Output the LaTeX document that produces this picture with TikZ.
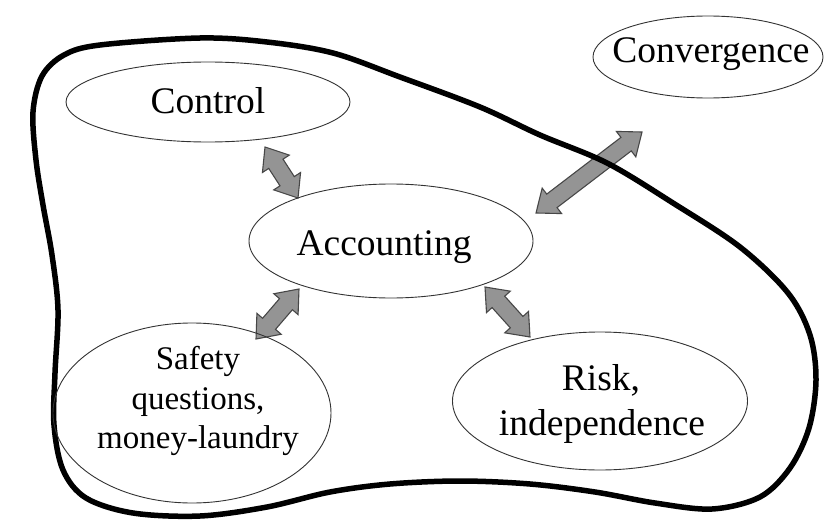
\documentclass[tikz,border=0pt]{standalone}
\usepackage{fontspec}
\setmainfont{Liberation Serif}
\usetikzlibrary{shapes.geometric,calc}
\begin{document}
\begin{tikzpicture}[x=1pt,y=-1pt,
  ell/.style={ellipse, draw=black!80, line width=0.9pt, inner sep=0pt},
  bigtext/.style={font=\fontsize{37.5}{45}\selectfont, anchor=base, inner sep=0pt},
  smalltext/.style={font=\fontsize{33}{40}\selectfont, anchor=base, inner sep=0pt},
  arrowlook/.style={draw=black!72, fill=black!42, line width=1.1pt, line join=miter},
  fatarr/.pic={
    \pgfmathsetmacro\hl{#1/2}
    \pgfmathsetmacro\hb{\hl-20}
    \filldraw[arrowlook] (-\hl,0) -- (-\hb,16) -- (-\hb,8.5) -- (\hb,8.5) -- (\hb,16)
      -- (\hl,0) -- (\hb,-16) -- (\hb,-8.5) -- (-\hb,-8.5) -- (-\hb,-16) -- cycle;
  },
  blob/.style={line width=5.5pt, line join=round}]
\useasboundingbox (0,0) rectangle (824,527);
\fill[white] (0,0) rectangle (824,527);

% arrow end points
\coordinate (a1s) at (265,147); \coordinate (a1e) at (298,198);
\coordinate (a2s) at (536,213); \coordinate (a2e) at (642,132);
\coordinate (a3s) at (256,339); \coordinate (a3e) at (299,289);
\coordinate (a4s) at (485,287); \coordinate (a4e) at (530,337);

\foreach \st/\en in {a1s/a1e, a2s/a2e, a3s/a3e, a4s/a4e}{
  \path let \p1 = ($(\en)-(\st)$), \n1 = {atan2(\y1,\x1)}, \n2 = {veclen(\x1,\y1)} in
    pic[rotate=\n1] at ($(\st)!0.5!(\en)$) {fatarr=\n2};
}

% outer boundary
\draw[blob] plot[smooth cycle, tension=0.55] coordinates {
 (33,112) (42,76) (64,55) (100,45) (200,38) (267,42) (333,53) (400,77)
 (480,107) (540,135) (607,163) (673,203) (740,247) (788,293) (810,335)
 (816,380) (809,428) (790,468) (760,497) (712,509) (655,503) (595,492)
 (530,484) (460,481) (390,484) (330,492) (267,507) (200,516) (133,513)
 (86,498) (63,470) (54,425) (55,373) (58,310) (52,255) (43,205) (36,160)};

% ellipses
\node[ell, minimum width=284, minimum height=80] (ctrl) at (208,102) {};
\node[ell, minimum width=230, minimum height=82] (conv) at (708,57) {};
\node[ell, minimum width=284, minimum height=114] (acc) at (391,241) {};
\node[ell, minimum width=278, minimum height=180] (safe) at (192,413) {};
\node[ell, minimum width=295, minimum height=138] (risk) at (600,401) {};

% texts
\node[bigtext] (ctrlt) at (208,113) {Control};
\node[bigtext] (convt) at (711,63) {Convergence};
\node[bigtext] (acct) at (384,255) {Accounting};
\node[smalltext] (safet1) at (198,369) {Safety};
\node[smalltext] (safet2) at (198,409) {questions,};
\node[smalltext] (safet3) at (198,448) {money-laundry};
\node[bigtext] (riskt1) at (601,390) {Risk,};
\node[bigtext] (riskt2) at (602,435) {independence};
\end{tikzpicture}
\end{document}
